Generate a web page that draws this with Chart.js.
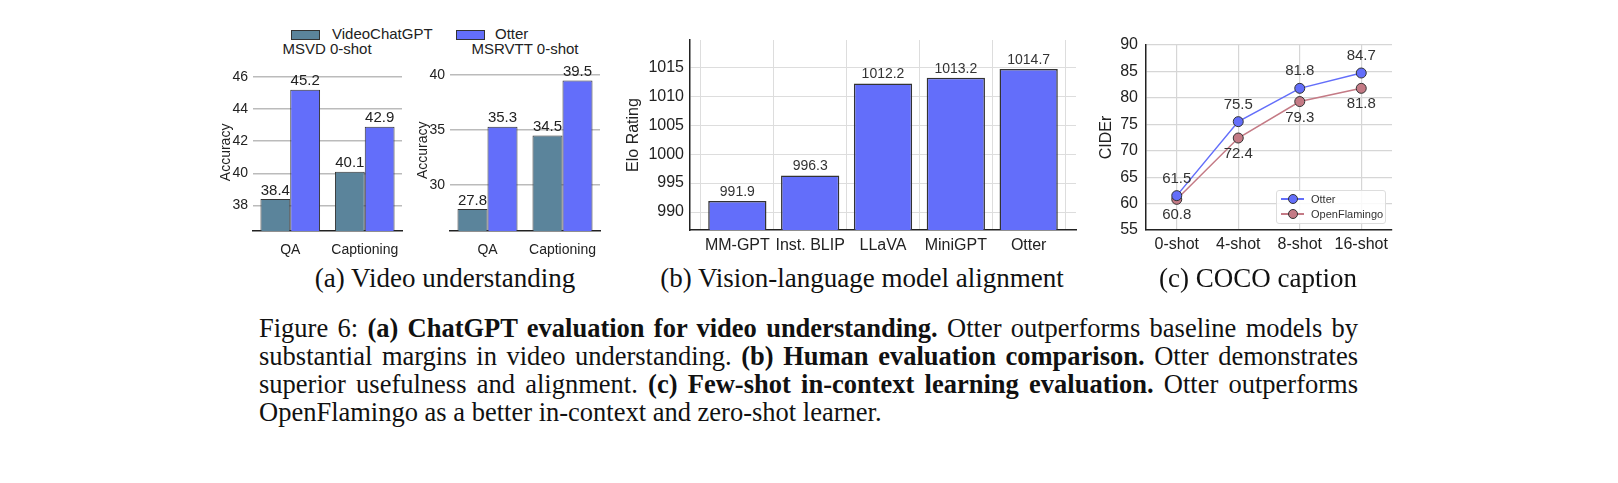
<!DOCTYPE html>
<html lang="en">
<head>
    <meta charset="UTF-8">
    <title>Figure 6</title>
    <script src="https://cdn.jsdelivr.net/npm/chart.js@4.4.0/dist/chart.umd.min.js"></script>
    <style>
        body {
            margin: 0;
            width: 1618px;
            height: 483px;
            background: #fff;
            position: relative;
            overflow: hidden;
            font-family: "Liberation Sans", Arial, sans-serif;
            color: #222;
        }
        canvas { position: absolute; }
        .abs { position: absolute; white-space: nowrap; }
        .legend-item { position: absolute; font-size: 15px; line-height: 18px; }
        .swatch {
            position: absolute;
            width: 27px;
            height: 8px;
            border: 1px solid #333;
        }
        .sub {
            position: absolute;
            font-family: "Liberation Serif", "Times New Roman", serif;
            font-size: 27px;
            line-height: 30px;
            text-align: center;
            white-space: nowrap;
            color: #111;
        }
        .caption {
            position: absolute;
            left: 259px;
            top: 314px;
            width: 1099px;
            font-family: "Liberation Serif", "Times New Roman", serif;
            font-size: 26.5px;
            line-height: 28px;
            color: #111;
        }
        .caption div { white-space: nowrap; text-align: justify; text-align-last: justify; }
        .caption div.last { text-align-last: left; }
        .cl { position: absolute; left: 1276px; top: 190px; width: 108px; height: 32px;
              border: 1px solid #ddd; border-radius: 3px; background: rgba(255,255,255,0.85); }
        .cl-row { position: absolute; left: 4px; height: 14px; font-size: 11px; line-height: 14px; color: #333; }
        .cl-line { position: absolute; left: 0; top: 6px; width: 23px; height: 1.5px; }
        .cl-dot { position: absolute; left: 7px; top: 2px; width: 8px; height: 8px; border-radius: 50%; border: 1px solid #333; }
        .cl-text { position: absolute; left: 30px; top: 0; }
    </style>
</head>
<body>
    <!-- (a) shared legend and panel titles -->
    <div class="swatch" style="left:291px; top:30px; background:#5b849b;"></div>
    <div class="legend-item" style="left:332px; top:25px;">VideoChatGPT</div>
    <div class="swatch" style="left:456px; top:30px; background:#636efa;"></div>
    <div class="legend-item" style="left:495px; top:25px;">Otter</div>
    <div class="abs" style="left:327px; top:40px; transform:translateX(-50%); font-size:15px;">MSVD 0-shot</div>
    <div class="abs" style="left:525px; top:40px; transform:translateX(-50%); font-size:15px;">MSRVTT 0-shot</div>

    <canvas id="msvdChart" width="210" height="200" style="left:200px; top:60px;"></canvas>
    <canvas id="msrvttChart" width="200" height="200" style="left:410px; top:60px;"></canvas>
    <canvas id="eloChart" width="470" height="240" style="left:620px; top:20px;"></canvas>
    <canvas id="cocoChart" width="345" height="240" style="left:1060px; top:20px;"></canvas>

    <!-- (c) legend -->
    <div class="cl">
        <div class="cl-row" style="top:1px;">
            <div class="cl-line" style="background:#636efa;"></div>
            <div class="cl-dot" style="background:#636efa;"></div>
            <div class="cl-text">Otter</div>
        </div>
        <div class="cl-row" style="top:16px;">
            <div class="cl-line" style="background:#c47a85;"></div>
            <div class="cl-dot" style="background:#c47a85;"></div>
            <div class="cl-text">OpenFlamingo</div>
        </div>
    </div>

    <div class="sub" style="left:445px; top:263px; transform:translateX(-50%);">(a) Video understanding</div>
    <div class="sub" style="left:862px; top:263px; transform:translateX(-50%);">(b) Vision-language model alignment</div>
    <div class="sub" style="left:1258px; top:263px; transform:translateX(-50%);">(c) COCO caption</div>

    <div class="caption">
        <div>Figure 6: <b>(a) ChatGPT evaluation for video understanding.</b> Otter outperforms baseline models by</div>
        <div>substantial margins in video understanding. <b>(b) Human evaluation comparison.</b> Otter demonstrates</div>
        <div>superior usefulness and alignment. <b>(c) Few-shot in-context learning evaluation.</b> Otter outperforms</div>
        <div class="last">OpenFlamingo as a better in-context and zero-shot learner.</div>
    </div>

    <script>
        // data
        const videoTasks = ['QA', 'Captioning'];
        const msvdVideoChatGPT = [38.4, 40.1];
        const msvdOtter = [45.2, 42.9];
        const msrvttVideoChatGPT = [27.8, 34.5];
        const msrvttOtter = [35.3, 39.5];
        const msvdTicks = [38, 40, 42, 44, 46];
        const msrvttTicks = [30, 35, 40];

        const eloModels = ['MM-GPT', 'Inst. BLIP', 'LLaVA', 'MiniGPT', 'Otter'];
        const eloRatings = [991.9, 996.3, 1012.2, 1013.2, 1014.7];
        const eloTicks = [990, 995, 1000, 1005, 1010, 1015];

        const shots = ['0-shot', '4-shot', '8-shot', '16-shot'];
        const cocoOtter = [61.5, 75.5, 81.8, 84.7];
        const cocoOpenFlamingo = [60.8, 72.4, 79.3, 81.8];

        const BLUE = '#636efa';
        const SLATE = '#5b849b';
        const ROSE = '#c47a85';

        Chart.defaults.font.family = '"Liberation Sans", Arial, sans-serif';
        Chart.defaults.color = '#222';

        // writes the value above (or below) every bar / point
        const valueLabels = {
            id: 'valueLabels',
            afterDatasetsDraw(chart, args, opts) {
                const ctx = chart.ctx;
                ctx.save();
                ctx.fillStyle = opts.color || '#222';
                ctx.font = (opts.size || 14) + 'px "Liberation Sans", Arial, sans-serif';
                ctx.textAlign = 'center';
                chart.data.datasets.forEach(function(ds, i) {
                    const meta = chart.getDatasetMeta(i);
                    const shift = opts.shift ? opts.shift[i] : -2;
                    ctx.textBaseline = opts.middle ? 'middle' : 'bottom';
                    meta.data.forEach(function(el, j) {
                        const raw = ds.data[j];
                        const v = typeof raw === 'object' ? raw.y : raw;
                        ctx.fillText(v.toFixed(1), el.x, el.y + shift);
                    });
                });
                ctx.restore();
            }
        };

        function fixY(w) {
            return function(s) { s.width = w; s.paddingTop = 0; s.paddingBottom = 0; };
        }
        function fixX(h) {
            return function(s) { s.height = h; s.paddingLeft = 0; s.paddingRight = 0; };
        }
        function setTicks(list) {
            return function(s) { s.ticks = list.map(function(v) { return { value: v }; }); };
        }
        function plain(v) { return String(v); }

        function videoChart(id, a, b, min, max, ticks, yWidth, titlePad, pad) {
            return new Chart(document.getElementById(id), {
                type: 'bar',
                data: {
                    labels: videoTasks,
                    datasets: [
                        { label: 'VideoChatGPT', data: a, backgroundColor: SLATE, borderColor: '#333',
                          borderWidth: 1, borderSkipped: false, barPercentage: 1, categoryPercentage: 0.8 },
                        { label: 'Otter', data: b, backgroundColor: BLUE, borderColor: '#333',
                          borderWidth: 1, borderSkipped: false, barPercentage: 1, categoryPercentage: 0.8 }
                    ]
                },
                options: {
                    responsive: false,
                    animation: false,
                    devicePixelRatio: 1,
                    layout: { padding: { top: pad.top, right: pad.right, left: 0, bottom: 0 } },
                    plugins: {
                        legend: { display: false },
                        tooltip: { enabled: false },
                        valueLabels: { size: 15, color: '#222', shift: [-1, -1] }
                    },
                    scales: {
                        x: {
                            grid: { display: false },
                            border: { display: true, color: '#222', width: 1.5 },
                            ticks: { font: { size: 14 }, padding: 3, color: '#222' },
                            afterFit: fixX(29)
                        },
                        y: {
                            min: min, max: max,
                            afterBuildTicks: setTicks(ticks),
                            grid: { color: '#bbbbbb', lineWidth: 1.5, drawTicks: false },
                            border: { display: false },
                            ticks: { font: { size: 14 }, padding: 5, color: '#222', callback: plain },
                            title: { display: true, text: 'Accuracy', font: { size: 14 }, padding: { top: titlePad, bottom: 0 }, color: '#222' },
                            afterFit: fixY(yWidth)
                        }
                    }
                },
                plugins: [valueLabels]
            });
        }

        videoChart('msvdChart', msvdVideoChatGPT, msvdOtter, 36.4, 46.2, msvdTicks, 53, 17.6, { top: 13.8, right: 8 });
        videoChart('msrvttChart', msrvttVideoChatGPT, msrvttOtter, 25.8, 40.5, msrvttTicks, 40, 4.6, { top: 9.5, right: 10 });

        // (b) Elo ratings, linear x so the bar spacing follows the original axes
        new Chart(document.getElementById('eloChart'), {
            type: 'bar',
            data: {
                datasets: [{
                    label: 'Elo Rating',
                    data: eloRatings.map(function(v, i) { return { x: i, y: v }; }),
                    backgroundColor: BLUE,
                    borderColor: '#333',
                    borderWidth: 1.5,
                    borderSkipped: false,
                    barPercentage: 0.8,
                    categoryPercentage: 1
                }]
            },
            options: {
                responsive: false,
                animation: false,
                devicePixelRatio: 1,
                layout: { padding: { top: 20, right: 14, left: 0, bottom: 0 } },
                plugins: {
                    legend: { display: false },
                    tooltip: { enabled: false },
                    valueLabels: { size: 14, color: '#333', shift: [-2] }
                },
                scales: {
                    x: {
                        type: 'linear',
                        offset: false,
                        min: -0.65, max: 4.65,
                        afterBuildTicks: setTicks([0, 1, 2, 3, 4]),
                        grid: { color: '#dddddd', lineWidth: 1, drawTicks: false },
                        border: { display: true, color: '#222', width: 1.5 },
                        ticks: { font: { size: 16 }, padding: 6, color: '#222',
                                 callback: function(v) { return eloModels[v]; } },
                        afterFit: fixX(30)
                    },
                    y: {
                        min: 986.9, max: 1019.7,
                        afterBuildTicks: setTicks(eloTicks),
                        grid: { color: '#dddddd', lineWidth: 1, drawTicks: false },
                        border: { display: true, color: '#222', width: 1.5 },
                        ticks: { font: { size: 16 }, padding: 6, color: '#222', callback: plain },
                        title: { display: true, text: 'Elo Rating', font: { size: 16 }, padding: { top: 4.4, bottom: 0 }, color: '#222' },
                        afterFit: fixY(70)
                    }
                }
            },
            plugins: [valueLabels]
        });

        // (c) COCO few-shot CIDEr
        new Chart(document.getElementById('cocoChart'), {
            type: 'line',
            data: {
                labels: shots,
                datasets: [
                    { label: 'Otter', data: cocoOtter, borderColor: BLUE, backgroundColor: BLUE,
                      borderWidth: 1.5, pointRadius: 5, pointBorderColor: '#333', pointBorderWidth: 1, tension: 0 },
                    { label: 'OpenFlamingo', data: cocoOpenFlamingo, borderColor: ROSE, backgroundColor: ROSE,
                      borderWidth: 1.5, pointRadius: 5, pointBorderColor: '#333', pointBorderWidth: 1, tension: 0 }
                ]
            },
            options: {
                responsive: false,
                animation: false,
                devicePixelRatio: 1,
                layout: { padding: { top: 25, right: 13, left: 0, bottom: 0 } },
                plugins: {
                    legend: { display: false },
                    tooltip: { enabled: false },
                    valueLabels: { size: 15, color: '#333', middle: true, shift: [-17, 16] }
                },
                scales: {
                    x: {
                        offset: true,
                        grid: { color: '#d6d6d6', lineWidth: 1.2, drawTicks: false, offset: false },
                        border: { display: true, color: '#222', width: 1.5 },
                        ticks: { font: { size: 16 }, padding: 5, color: '#222' },
                        afterFit: fixX(30)
                    },
                    y: {
                        min: 55, max: 90,
                        ticks: { stepSize: 5, font: { size: 16 }, padding: 8, color: '#222' },
                        grid: { color: '#d6d6d6', lineWidth: 1.2, drawTicks: false },
                        border: { display: true, color: '#222', width: 1.5 },
                        title: { display: true, text: 'CIDEr', font: { size: 16 }, padding: { top: 37.4, bottom: 0 }, color: '#222' },
                        afterFit: fixY(86)
                    }
                }
            },
            plugins: [valueLabels]
        });
    </script>
</body>
</html>
